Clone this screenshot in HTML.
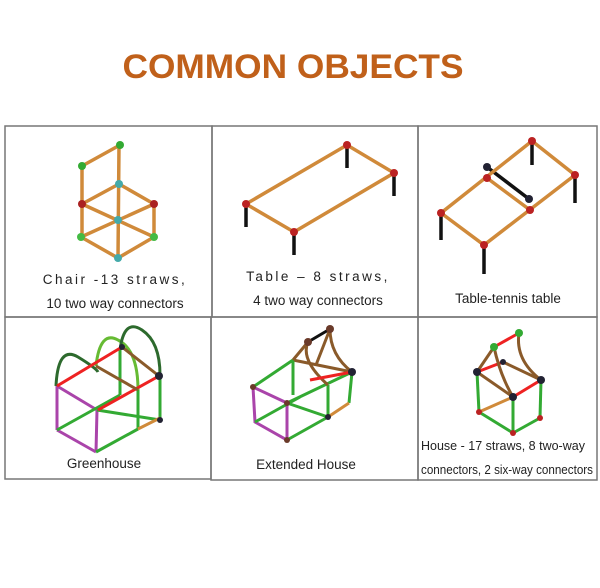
<!DOCTYPE html>
<html><head><meta charset="utf-8"><style>
html,body{margin:0;padding:0;background:#fff;width:600px;height:588px;overflow:hidden}
svg{display:block}
</style></head><body>
<svg width="600" height="588" viewBox="0 0 600 588" xmlns="http://www.w3.org/2000/svg" font-family="Liberation Sans, sans-serif">
<text x="293" y="78" text-anchor="middle" font-size="34" font-weight="bold" fill="#c0601a" textLength="341" lengthAdjust="spacingAndGlyphs">COMMON OBJECTS</text>
<g fill="none" stroke="#777" stroke-width="1.5">
<rect x="5" y="126" width="207" height="191"/>
<rect x="212" y="126" width="206" height="191"/>
<rect x="418" y="126" width="179" height="191"/>
<rect x="5" y="317" width="206" height="162"/>
<rect x="211" y="317" width="207" height="163"/>
<rect x="418" y="317" width="179" height="163"/>
</g>
<!-- chair -->
<g stroke="#d08a3a" stroke-width="3.5" stroke-linecap="round">
<line x1="82" y1="166" x2="120" y2="145"/>
<line x1="82" y1="166" x2="82" y2="237"/>
<line x1="119" y1="145" x2="118" y2="258"/>
<line x1="82" y1="204" x2="119" y2="184"/><line x1="119" y1="184" x2="154" y2="204"/>
<line x1="82" y1="204" x2="154" y2="237"/><line x1="154" y1="204" x2="81" y2="237"/>
<line x1="154" y1="204" x2="154" y2="237"/>
<line x1="81" y1="237" x2="118" y2="258"/><line x1="118" y1="258" x2="154" y2="237"/>
</g>
<g>
<circle cx="120" cy="145" r="4" fill="#3a3"/><circle cx="82" cy="166" r="4" fill="#3a3"/>
<circle cx="119" cy="184" r="4" fill="#4aa"/><circle cx="82" cy="204" r="4" fill="#a22"/>
<circle cx="154" cy="204" r="4" fill="#a22"/><circle cx="118" cy="220" r="4" fill="#4aa"/>
<circle cx="81" cy="237" r="4" fill="#4b4"/><circle cx="154" cy="237" r="4" fill="#4b4"/>
<circle cx="118" cy="258" r="4" fill="#4aa"/>
</g>
<!-- table -->
<g stroke="#111" stroke-width="3.5"><line x1="347" y1="145" x2="347" y2="168"/><line x1="394" y1="173" x2="394" y2="196"/><line x1="246" y1="204" x2="246" y2="227"/><line x1="294" y1="232" x2="294" y2="255"/></g>
<g stroke="#d08a3a" stroke-width="3.5"><polygon points="347,145 394,173 294,232 246,204" fill="none"/></g>
<g fill="#b22"><circle cx="347" cy="145" r="4"/><circle cx="394" cy="173" r="4"/><circle cx="246" cy="204" r="4"/><circle cx="294" cy="232" r="4"/></g>
<!-- table tennis -->
<g stroke="#111" stroke-width="3.5"><line x1="532" y1="141" x2="532" y2="165"/><line x1="575" y1="175" x2="575" y2="203"/><line x1="441" y1="213" x2="441" y2="240"/><line x1="484" y1="245" x2="484" y2="274"/><line x1="487" y1="167" x2="529" y2="199"/></g>
<g stroke="#d08a3a" stroke-width="3.5" fill="none"><polygon points="532,141 575,175 484,245 441,213"/><line x1="487" y1="178" x2="530" y2="210"/></g>
<g fill="#b22"><circle cx="532" cy="141" r="4"/><circle cx="575" cy="175" r="4"/><circle cx="487" cy="178" r="4"/><circle cx="530" cy="210" r="4"/><circle cx="441" cy="213" r="4"/><circle cx="484" cy="245" r="4"/></g>
<g fill="#223"><circle cx="487" cy="167" r="4"/><circle cx="529" cy="199" r="4"/></g>
<!-- greenhouse -->
<g fill="none" stroke-width="3">
<path d="M56 386 Q 58 345 78 357 Q 96 368 98 372" stroke="#2d6a2d"/>
<path d="M96 366 Q 100 330 118 340 Q 138 350 138 390" stroke="#6b3"/>
<path d="M120 350 Q 124 318 142 330 Q 160 342 160 375" stroke="#2d6a2d"/>
<line x1="57" y1="386" x2="57" y2="430" stroke="#a4a"/><line x1="97" y1="410" x2="96" y2="452" stroke="#a4a"/>
<line x1="57" y1="386" x2="97" y2="410" stroke="#a4a"/><line x1="57" y1="430" x2="96" y2="452" stroke="#a4a"/>
<line x1="96" y1="452" x2="138" y2="429" stroke="#3a3"/><line x1="57" y1="430" x2="120" y2="395" stroke="#3a3"/>
<line x1="138" y1="390" x2="138" y2="429" stroke="#3a3"/><line x1="160" y1="376" x2="160" y2="420" stroke="#3a3"/>
<line x1="120" y1="350" x2="120" y2="395" stroke="#3a3"/>
<line x1="97" y1="410" x2="160" y2="420" stroke="#3a3"/><line x1="138" y1="429" x2="160" y2="418" stroke="#d08a3a"/>
<line x1="57" y1="386" x2="122" y2="347" stroke="#e22"/><line x1="98" y1="410" x2="159" y2="376" stroke="#e22"/>
<line x1="96" y1="366" x2="138" y2="390" stroke="#8a5a2a"/><line x1="122" y1="347" x2="159" y2="376" stroke="#8a5a2a"/>
</g>
<g fill="#223"><circle cx="159" cy="376" r="4"/><circle cx="122" cy="347" r="3"/><circle cx="160" cy="420" r="3"/></g>
<!-- extended house -->
<g fill="none" stroke-width="3">
<polygon points="253,387 287,403 287,440 255,422" stroke="#a4a"/>
<line x1="253" y1="387" x2="293" y2="360" stroke="#3a3"/><line x1="287" y1="403" x2="352" y2="372" stroke="#3a3"/>
<line x1="293" y1="360" x2="352" y2="372" stroke="#8a5a2a"/>
<line x1="293" y1="360" x2="293" y2="395" stroke="#3a3"/><line x1="328" y1="385" x2="328" y2="417" stroke="#3a3"/>
<line x1="352" y1="372" x2="349" y2="403" stroke="#3a3"/><line x1="287" y1="440" x2="328" y2="417" stroke="#3a3"/>
<line x1="255" y1="422" x2="300" y2="397" stroke="#3a3"/><line x1="328" y1="417" x2="349" y2="403" stroke="#d08a3a"/>
<line x1="287" y1="403" x2="328" y2="417" stroke="#3a3"/>
<line x1="308" y1="342" x2="330" y2="329" stroke="#111"/>
<path d="M308 342 Q 300 360 328 385" stroke="#8a5a2a"/><path d="M330 329 Q 330 355 352 372" stroke="#8a5a2a"/>
<line x1="308" y1="342" x2="293" y2="360" stroke="#8a5a2a"/><line x1="330" y1="329" x2="316" y2="365" stroke="#8a5a2a"/>
<line x1="310" y1="380" x2="352" y2="372" stroke="#e22"/>
</g>
<g fill="#6a3a2a"><circle cx="308" cy="342" r="4"/><circle cx="330" cy="329" r="4"/><circle cx="287" cy="403" r="3"/><circle cx="253" cy="387" r="3"/><circle cx="287" cy="440" r="3"/></g>
<circle cx="352" cy="372" r="4" fill="#223"/><circle cx="328" cy="417" r="3" fill="#223"/>
<!-- house -->
<g fill="none" stroke-width="3">
<line x1="494" y1="347" x2="519" y2="333" stroke="#e22"/><line x1="513" y1="397" x2="541" y2="380" stroke="#e22"/>
<line x1="477" y1="372" x2="503" y2="362" stroke="#e22"/>
<path d="M519 333 Q 515 360 541 380" stroke="#8a5a2a"/><path d="M494 347 Q 500 375 513 397" stroke="#8a5a2a"/>
<line x1="494" y1="347" x2="477" y2="372" stroke="#8a5a2a"/><line x1="477" y1="372" x2="513" y2="397" stroke="#8a5a2a"/>
<line x1="503" y1="362" x2="541" y2="380" stroke="#8a5a2a"/>
<line x1="477" y1="372" x2="479" y2="412" stroke="#3a3"/><line x1="541" y1="380" x2="540" y2="418" stroke="#3a3"/>
<line x1="513" y1="397" x2="513" y2="433" stroke="#3a3"/><line x1="479" y1="412" x2="513" y2="433" stroke="#3a3"/>
<line x1="513" y1="433" x2="540" y2="418" stroke="#3a3"/><line x1="479" y1="412" x2="513" y2="397" stroke="#d08a3a"/>
</g>
<g fill="#223"><circle cx="477" cy="372" r="4"/><circle cx="541" cy="380" r="4"/><circle cx="513" cy="397" r="4"/><circle cx="503" cy="362" r="3"/></g>
<g fill="#3a3"><circle cx="519" cy="333" r="4"/><circle cx="494" cy="347" r="4"/></g>
<g fill="#b22"><circle cx="479" cy="412" r="3"/><circle cx="540" cy="418" r="3"/><circle cx="513" cy="433" r="3"/></g>
<!-- labels -->
<g fill="#222" font-size="13.5" text-anchor="middle">
<text x="115" y="284" letter-spacing="2.5">Chair  -13  straws,</text>
<text x="115" y="308">10 two way connectors</text>
<text x="318" y="281" letter-spacing="2.5">Table  –  8  straws,</text>
<text x="318" y="305">4 two way connectors</text>
<text x="508" y="303">Table-tennis table</text>
<text x="104" y="468">Greenhouse</text>
<text x="306" y="469">Extended House</text>
</g>
<g fill="#222" font-size="12.5">
<text x="421" y="450">House - 17 straws, 8 two-way</text>
<text x="421" y="474" textLength="172" lengthAdjust="spacingAndGlyphs">connectors, 2 six-way connectors</text>
</g>
</svg>
</body></html>
